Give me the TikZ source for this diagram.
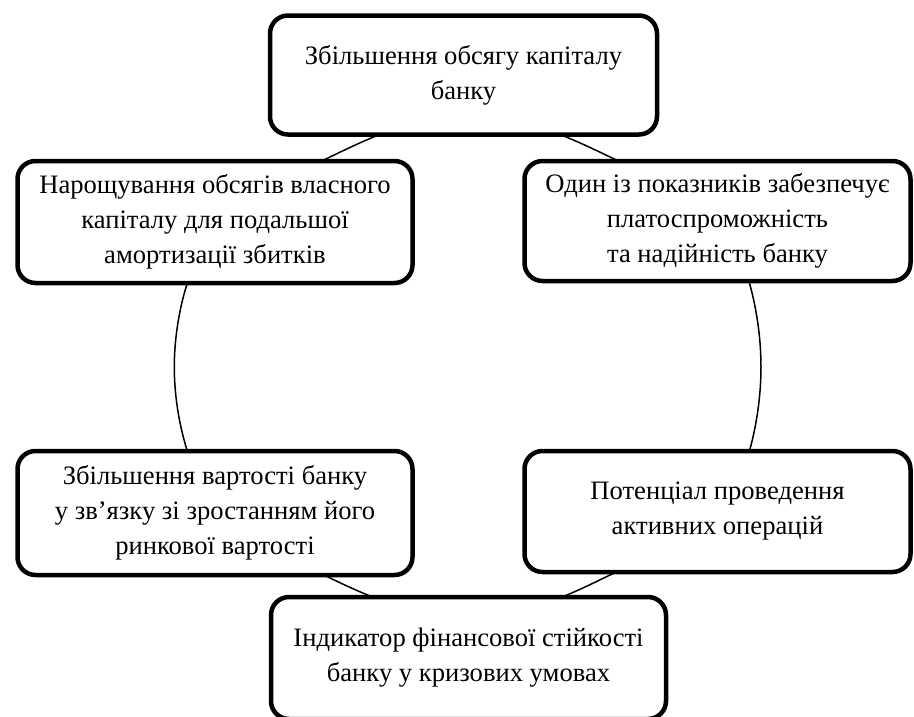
\documentclass[tikz,border=0pt]{standalone}
\usepackage{fontspec}
\setmainfont{Liberation Serif}
\tikzset{
  box/.style={draw, line width=4.5pt, rounded corners=18pt, fill=white, align=center,
    inner sep=0pt, font=\fontsize{26.6}{35}\selectfont},
  ring/.style={draw, line width=1.5pt}
}
\begin{document}
\begin{tikzpicture}[x=1pt,y=-1pt]
\useasboundingbox (0,0) rectangle (914,716);
\clip (0,0) rectangle (914,716);
% ring behind the boxes
\coordinate (L) at (174.3,367);
\coordinate (P1) at (186.7,285);
\coordinate (P2) at (330,157);
\coordinate (T) at (469.5,118);
\coordinate (Q2) at (610,157);
\coordinate (Q1) at (750,285);
\coordinate (R) at (761,367);
\coordinate (Q1b) at (750,449);
\coordinate (Q2b) at (608,576);
\coordinate (B) at (469.5,615);
\coordinate (P2b) at (328,577);
\coordinate (P1b) at (186.7,449);
\path[ring] (L) .. controls (174.3,340) and (178.7,310.8) .. (P1)
  .. controls (208.9,213.4) and (262.5,189.7) .. (P2)
  .. controls (384,130.8) and (414.5,118) .. (T)
  .. controls (524.5,118) and (556,130.8) .. (Q2)
  .. controls (670.75,186.4) and (730.2,212.6) .. (Q1)
  .. controls (757.1,311.1) and (761,340) .. (R)
  .. controls (761,394) and (757.1,422.9) .. (Q1b)
  .. controls (730.2,521.4) and (668.75,546.6) .. (Q2b)
  .. controls (554,602.2) and (524.5,615) .. (B)
  .. controls (414.5,615) and (382,603.2) .. (P2b)
  .. controls (267.25,547.6) and (208.9,520.6) .. (P1b)
  .. controls (178.7,423.2) and (174.3,394) .. (L);
% boxes
\node[box, minimum width=387pt, minimum height=119pt] (top) at (463.5,75)
  {Збільшення обсягу капіталу\\банку};
\node[box, minimum width=395pt, minimum height=122pt] (ml) at (215,222)
  {Нарощування обсягів власного\\капіталу для подальшої\\амортизації збитків};
\node[box, minimum width=386pt, minimum height=120pt] (mr) at (717.5,221)
  {Один із показників забезпечує\\платоспроможність\\та надійність банку};
\node[box, minimum width=395pt, minimum height=124pt] (bl) at (215,513)
  {Збільшення вартості банку\\у зв’язку зі зростанням його\\ринкової вартості};
\node[box, minimum width=386pt, minimum height=121pt] (br) at (717.5,511.5)
  {Потенціал проведення\\активних операцій};
\node[box, minimum width=395pt, minimum height=122pt] (bot) at (468.5,658)
  {Індикатор фінансової стійкості\\банку у кризових умовах};
\end{tikzpicture}
\end{document}
